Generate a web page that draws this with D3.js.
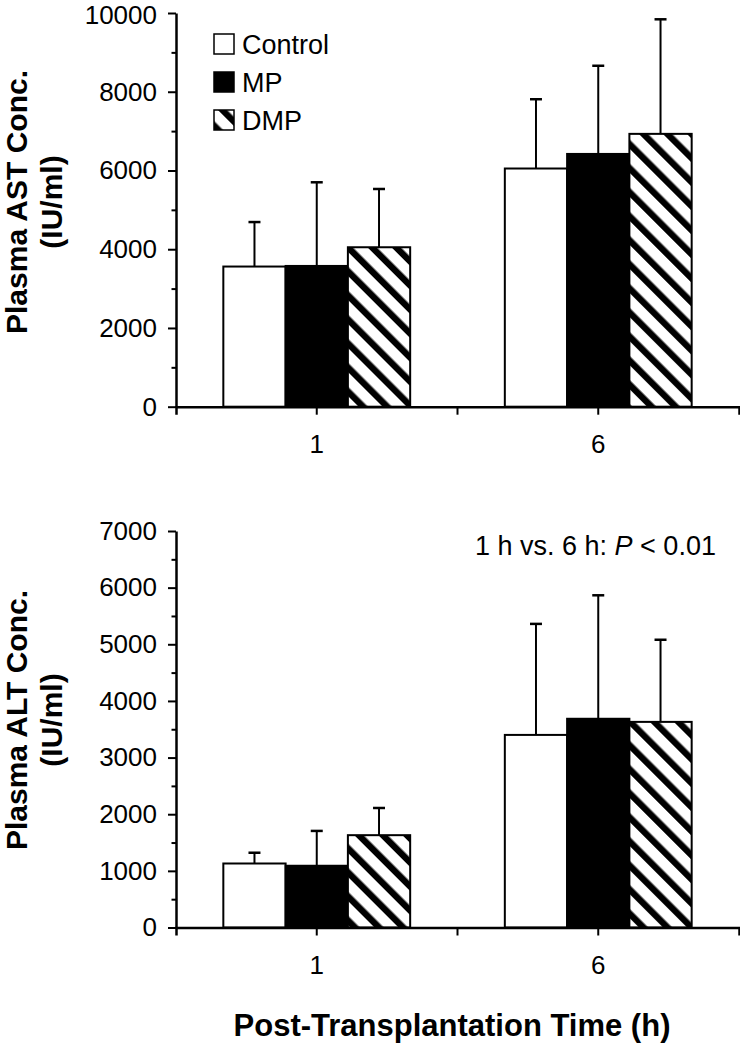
<!DOCTYPE html>
<html><head><meta charset="utf-8">
<script src="https://cdn.jsdelivr.net/npm/d3@7"></script>
<style>
body{margin:0;background:#fff}
svg{display:block}
text{font-family:"Liberation Sans",Arial,Helvetica,sans-serif;fill:#000}
</style>
</head><body><svg id="c" width="740" height="1043"></svg>
<script>
// ---------- data ----------
const categories = ["1", "6"];
const seriesNames = ["Control", "MP", "DMP"];

const astControl = [3560, 6050];
const astMP      = [3575, 6420];
const astDMP     = [4050, 6930];
const astControlSD = [1130, 1760];
const astMPSD      = [2125, 2240];
const astDMPSD     = [1480, 2910];

const altControl = [1130, 3400];
const altMP      = [1090, 3685];
const altDMP     = [1630, 3630];
const altControlSD = [190, 1960];
const altMPSD      = [615, 2180];
const altDMPSD     = [480, 1450];

const astTicks = [0, 2000, 4000, 6000, 8000, 10000];
const astMinor = [1000, 3000, 5000, 7000, 9000];
const altTicks = [0, 1000, 2000, 3000, 4000, 5000, 6000, 7000];
const altMinor = [500, 1500, 2500, 3500, 4500, 5500, 6500];

const xTitle = "Post-Transplantation Time (h)";
const annotation = ["1 h vs. 6 h: ", "P", " < 0.01"];

// ---------- drawing ----------
const svg = d3.select("#c");
const defs = svg.append("defs");
defs.append("pattern")
  .attr("id", "hatch")
  .attr("patternUnits", "userSpaceOnUse")
  .attr("width", 17).attr("height", 17)
  .attr("patternTransform", "rotate(-45)")
  .call(p => {
    p.append("rect").attr("width", 17).attr("height", 17).attr("fill", "#fff");
    p.append("rect").attr("x", 0).attr("width", 6.5).attr("height", 17).attr("fill", "#000");
  });

const fills = {Control: "#fff", MP: "#000", DMP: "url(#hatch)"};
const xLeft = 176, xRight = 739;

function panel(opt) {
  const g = svg.append("g");
  const x0 = d3.scaleBand().domain(categories).range([xLeft, xRight]).paddingInner(0).paddingOuter(0);
  const x1 = d3.scaleBand().domain(seriesNames).range([0, x0.bandwidth()]).paddingInner(0).paddingOuter(0.76);
  const y = d3.scaleLinear().domain([0, opt.max]).range([opt.bottom, opt.top]);

  const rows = seriesNames.map((s, i) => ({name: s, vals: opt.vals[i], sds: opt.sds[i]}));

  rows.forEach(r => {
    categories.forEach((c, j) => {
      const cx = x0(c) + x1(r.name) + x1.bandwidth() / 2;
      g.append("line").attr("x1", cx).attr("x2", cx)
        .attr("y1", y(r.vals[j])).attr("y2", y(r.vals[j] + r.sds[j]))
        .attr("stroke", "#000").attr("stroke-width", 2);
      g.append("line").attr("x1", cx - 6).attr("x2", cx + 6)
        .attr("y1", y(r.vals[j] + r.sds[j])).attr("y2", y(r.vals[j] + r.sds[j]))
        .attr("stroke", "#000").attr("stroke-width", 2.5);
    });
  });

  rows.forEach(r => {
    g.selectAll(null).data(categories).enter().append("rect")
      .attr("x", c => x0(c) + x1(r.name))
      .attr("y", (c, j) => y(r.vals[j]))
      .attr("width", x1.bandwidth())
      .attr("height", (c, j) => y(0) - y(r.vals[j]))
      .attr("fill", fills[r.name])
      .attr("stroke", "#000").attr("stroke-width", 2);
  });

  g.append("g").attr("transform", `translate(${xLeft},0)`)
    .call(d3.axisLeft(y).tickValues(opt.minor).tickSize(4.5).tickFormat(""))
    .call(a => a.select(".domain").remove())
    .call(a => a.selectAll("line").attr("stroke-width", 2));
  g.append("g").attr("transform", `translate(${xLeft},0)`)
    .call(d3.axisLeft(y).tickValues(opt.ticks).tickSize(8).tickSizeOuter(0).tickPadding(11).tickFormat(d3.format("d")))
    .call(a => a.select(".domain").attr("stroke-width", 2.5))
    .call(a => a.selectAll("line").attr("stroke-width", 2))
    .call(a => a.selectAll("text").attr("font-size", 26).attr("font-family", "'Liberation Sans',Arial,sans-serif")
      .attr("dy", d => (y(d) < 20 ? "0.4em" : "0.32em")));

  const xa = g.append("g").attr("transform", `translate(0,${y(0)})`)
    .call(d3.axisBottom(x0).tickSize(8).tickSizeOuter(8).tickPadding(20))
    .call(a => a.select(".domain").attr("stroke-width", 2.5))
    .call(a => a.selectAll("line").attr("stroke-width", 2))
    .call(a => a.selectAll("text").attr("font-size", 26).attr("font-family", "'Liberation Sans',Arial,sans-serif"));
  xa.append("line").attr("x1", x0(categories[1])).attr("x2", x0(categories[1]))
    .attr("y1", 0).attr("y2", 8).attr("stroke", "#000").attr("stroke-width", 2);

  const t = svg.append("g").attr("transform", `translate(27,${opt.titleY}) rotate(-90)`);
  t.append("text").attr("text-anchor", "middle").attr("y", 0)
    .attr("font-size", 30).attr("font-weight", "bold").text(opt.title[0]);
  t.append("text").attr("text-anchor", "middle").attr("y", 35)
    .attr("font-size", 30).attr("font-weight", "bold").text(opt.title[1]);
  return {g, x0, y};
}

const astPanel = panel({top: 13, bottom: 406.7, max: 10000, ticks: astTicks, minor: astMinor,
  vals: [astControl, astMP, astDMP], sds: [astControlSD, astMPSD, astDMPSD],
  title: ["Plasma AST Conc.", "(IU/ml)"], titleY: 202});

const altPanel = panel({top: 531, bottom: 927.5, max: 7000, ticks: altTicks, minor: altMinor,
  vals: [altControl, altMP, altDMP], sds: [altControlSD, altMPSD, altDMPSD],
  title: ["Plasma ALT Conc.", "(IU/ml)"], titleY: 720});

const leg = svg.append("g").attr("transform", "translate(214,34)");
seriesNames.forEach((s, i) => {
  leg.append("rect").attr("x", 0).attr("y", i * 38).attr("width", 20).attr("height", 20)
    .attr("fill", fills[s]).attr("stroke", "#000").attr("stroke-width", 1.5);
  leg.append("text").attr("x", 28).attr("y", i * 38 + 20).attr("font-size", 27).text(s);
});

const an = svg.append("text").attr("x", 475).attr("y", 555).attr("font-size", 27);
an.append("tspan").text(annotation[0]);
an.append("tspan").attr("font-style", "italic").text(annotation[1]);
an.append("tspan").text(annotation[2]);

svg.append("text").attr("x", 452).attr("y", 1036).attr("text-anchor", "middle")
  .attr("font-size", 31).attr("font-weight", "bold").text(xTitle);
</script>
</body></html>
